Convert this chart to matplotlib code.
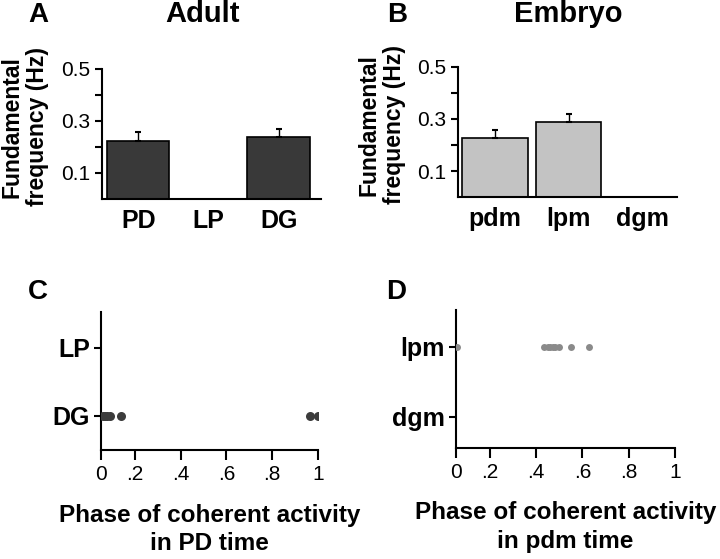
import matplotlib
matplotlib.use("Agg")
import matplotlib.pyplot as plt
import numpy as np

plt.rcParams['font.family'] = ['Liberation Sans', 'DejaVu Sans']

# ---- data ----
adult_cats = ['PD', 'LP', 'DG']
adult_freq = [0.222, 0.0, 0.240]
adult_err = [0.037, 0.0, 0.031]

embryo_cats = ['pdm', 'lpm', 'dgm']
embryo_freq = [0.226, 0.290, 0.0]
embryo_err = [0.033, 0.028, 0.0]

adult_phase_rows = ['LP', 'DG']
adult_phase_DG = [0.061, 0.070, 0.079, 0.092, 0.140, 0.965, 1.0]
adult_phase_LP = []

embryo_phase_rows = ['lpm', 'dgm']
embryo_phase_lpm = [0.059, 0.436, 0.450, 0.461, 0.472, 0.483, 0.501, 0.552, 0.627]
embryo_phase_dgm = []

phase_ticks = [0.2, 0.4, 0.6, 0.8, 1.0]
phase_ticklabels = ['.2', '.4', '.6', '.8', '1']

W, H = 720, 559

# ---- figure ----
fig = plt.figure(figsize=(7.2, 5.59), dpi=100)

def style_axes(ax):
    for s in ['top', 'right']:
        ax.spines[s].set_visible(False)
    for s in ['left', 'bottom']:
        ax.spines[s].set_linewidth(1.5)
    ax.tick_params(width=1.5, length=5, direction='out')

def bar_panel(ax, cats, vals, errs, color):
    x = np.arange(len(cats))
    ec = ['black' if v > 0 else 'none' for v in vals]
    ax.bar(x, vals, width=0.89, color=color, edgecolor=ec, linewidth=1.2, zorder=2)
    for xi, v, e in zip(x, vals, errs):
        if e > 0:
            ax.errorbar([xi], [v], yerr=[[0], [e]], fmt='none', ecolor='black',
                        elinewidth=1.0, capsize=2.5, capthick=1.5, zorder=3)
    style_axes(ax)
    ax.set_ylim(0, 0.5)
    ax.set_yticks([0.1, 0.2, 0.3, 0.4, 0.5])
    ax.set_yticklabels(['0.1', '', '0.3', '', '0.5'], fontsize=15)
    ax.set_xticks(x)
    ax.set_xticklabels(cats, fontsize=18, fontweight='bold')
    ax.tick_params(axis='x', length=0, pad=7)

# Panel A
axA = fig.add_axes([0.1413, 0.6440, 0.3041, 0.2326])
bar_panel(axA, adult_cats, adult_freq, adult_err, '#393939')
axA.set_xlim(-0.52, 2.6)

# Panel B
axB = fig.add_axes([0.6357, 0.6470, 0.305, 0.2337])
bar_panel(axB, embryo_cats, embryo_freq, embryo_err, '#c3c3c3')
axB.set_xlim(-0.51, 2.48)

ylab = 'Fundamental\nfrequency (Hz)'
fig.text(49 / W, 1 - 127 / H, ylab, rotation=90, ha='right', va='center',
         fontsize=16.5, fontweight='bold', linespacing=1.12, multialignment='center')
fig.text(406 / W, 1 - 125 / H, ylab, rotation=90, ha='right', va='center',
         fontsize=16.5, fontweight='bold', linespacing=1.12, multialignment='center')

def phase_panel(ax, rows, data, color, ms, ylim):
    style_axes(ax)
    ypos = [1, 0]
    for y, vals in zip(ypos, data):
        if len(vals):
            ax.plot(vals, [y] * len(vals), 'o', color=color, markersize=ms,
                    markeredgewidth=0, zorder=3)
    ax.set_xlim(0.053, 1.0)
    ax.set_ylim(*ylim)
    ax.set_yticks(ypos)
    ax.set_yticklabels(rows, fontsize=18, fontweight='bold')
    ax.set_xticks([0.053] + phase_ticks)
    ax.set_xticklabels(['0'] + phase_ticklabels, fontsize=15)
    ax.tick_params(axis='x', length=7, pad=4)
    ax.tick_params(axis='y', length=5, pad=3)

# Panel C
axC = fig.add_axes([0.1403, 0.195, 0.3014, 0.2474])
phase_panel(axC, adult_phase_rows, [adult_phase_LP, adult_phase_DG], '#3c3c3c', 6.5, (-0.5, 1.53))
axC.set_xlabel('Phase of coherent activity\nin PD time', fontsize=17.5, fontweight='bold',
               labelpad=14, linespacing=1.3)

# Panel D
axD = fig.add_axes([0.6329, 0.1991, 0.3046, 0.2463])
phase_panel(axD, embryo_phase_rows, [embryo_phase_lpm, embryo_phase_dgm], '#8a8a8a', 5, (-0.44, 1.52))
axD.set_xlabel('Phase of coherent activity\nin pdm time', fontsize=17.5, fontweight='bold',
               labelpad=14, linespacing=1.3)

# Panel letters and titles
fig.text(28 / W, 1 - 22 / H, 'A', fontsize=20, fontweight='bold', va='baseline')
fig.text(203 / W, 1 - 22 / H, 'Adult', fontsize=21, fontweight='bold', va='baseline', ha='center')
fig.text(387 / W, 1 - 22 / H, 'B', fontsize=20, fontweight='bold', va='baseline')
fig.text(568 / W, 1 - 22 / H, 'Embryo', fontsize=21, fontweight='bold', va='baseline', ha='center')
fig.text(28 / W, 1 - 299 / H, 'C', fontsize=20, fontweight='bold', va='baseline')
fig.text(386 / W, 1 - 299 / H, 'D', fontsize=20, fontweight='bold', va='baseline')

fig.savefig('out.png', dpi=100)
